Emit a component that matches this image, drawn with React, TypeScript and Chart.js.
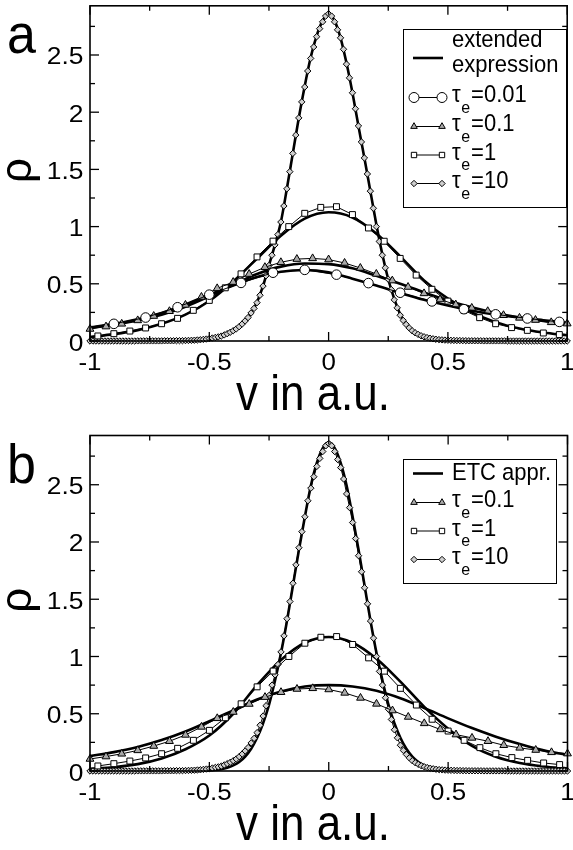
import React, { useEffect, useRef } from "react";
import { Chart, registerables } from "chart.js";

Chart.register(...registerables);

// ---------------- axes ----------------
const X_MIN = -1;
const X_MAX = 1;
const Y_MIN = 0;
const Y_MAX = 2.93;
const X_TICKS = [-1, -0.5, 0, 0.5, 1];
const X_TICK_LABELS = ["-1", "-0.5", "0", "0.5", "1"];
const X_MINOR = [-0.75, -0.25, 0.25, 0.75];
const Y_TICKS = [0, 0.5, 1, 1.5, 2, 2.5];
const Y_TICK_LABELS = ["0", "0.5", "1", "1.5", "2", "2.5"];
const Y_MINOR = [0.25, 0.75, 1.25, 1.75, 2.25, 2.75];
const X_TITLE = "v in a.u.";
const Y_TITLE = "ρ";

// ---------------- simulation data (markers) ----------------
const CIRCLE_V = [-0.9, -0.767, -0.633, -0.5, -0.367, -0.233, -0.1, 0.033, 0.167, 0.3, 0.433, 0.567, 0.7, 0.833, 0.967];
const RHO_TAU001 = [0.15, 0.205, 0.295, 0.405, 0.508, 0.597, 0.622, 0.58, 0.506, 0.422, 0.346, 0.278, 0.233, 0.197, 0.167];

const TRI_V = [-1, -0.933, -0.867, -0.8, -0.733, -0.667, -0.6, -0.533, -0.467, -0.4, -0.333, -0.267, -0.2, -0.133, -0.067, 0,
  0.067, 0.133, 0.2, 0.267, 0.333, 0.4, 0.467, 0.533, 0.6, 0.667, 0.733, 0.8, 0.867, 0.933, 1];
const RHO_TAU01 = [0.105, 0.126, 0.15, 0.18, 0.218, 0.26, 0.315, 0.385, 0.46, 0.515, 0.585, 0.645, 0.688, 0.716, 0.722, 0.712,
  0.682, 0.638, 0.586, 0.528, 0.472, 0.416, 0.363, 0.318, 0.289, 0.26, 0.225, 0.202, 0.183, 0.163, 0.152];

const SQ_V = [-0.967, -0.9, -0.833, -0.767, -0.7, -0.633, -0.567, -0.5, -0.433, -0.367, -0.3, -0.233, -0.167, -0.1, -0.033,
  0.033, 0.1, 0.167, 0.233, 0.3, 0.367, 0.433, 0.5, 0.567, 0.633, 0.7, 0.767, 0.833, 0.9, 0.967];
const RHO_TAU1 = [0.044, 0.064, 0.087, 0.114, 0.151, 0.198, 0.268, 0.355, 0.465, 0.587, 0.735, 0.873, 1.0, 1.116, 1.168,
  1.174, 1.105, 0.988, 0.872, 0.722, 0.576, 0.452, 0.349, 0.268, 0.204, 0.151, 0.117, 0.093, 0.07, 0.056];

// tau_e = 10: 161 bins of width 0.0125 from -1 to 1
const DIA_V = Array.from({ length: 161 }, (_, i) => -1 + i / 80);
const RHO_TAU10 = [
  0, 0, 0, 0, 0, 0, 0, 0,
  0, 0, 0, 0, 0, 0, 0, 0,
  0.001, 0.001, 0.001, 0.001, 0.001, 0.001, 0.001, 0.001,
  0.001, 0.002, 0.002, 0.002, 0.002, 0.003, 0.003, 0.003,
  0.004, 0.005, 0.006, 0.007, 0.009, 0.011, 0.014, 0.017,
  0.021, 0.026, 0.031, 0.036, 0.043, 0.053, 0.064, 0.076,
  0.09, 0.105, 0.125, 0.148, 0.175, 0.205, 0.245, 0.285,
  0.335, 0.4, 0.48, 0.57, 0.66, 0.75, 0.84, 0.93,
  1.04, 1.18, 1.33, 1.48, 1.64, 1.8, 1.95, 2.09,
  2.22, 2.36, 2.47, 2.57, 2.66, 2.73, 2.79, 2.84,
  2.86, 2.84, 2.79, 2.72, 2.65, 2.55, 2.42, 2.3,
  2.17, 2.03, 1.88, 1.74, 1.6, 1.46, 1.31, 1.16,
  1.0, 0.87, 0.75, 0.64, 0.54, 0.45, 0.36, 0.29,
  0.225, 0.18, 0.145, 0.115, 0.09, 0.072, 0.058, 0.046,
  0.037, 0.03, 0.024, 0.019, 0.015, 0.012, 0.01, 0.008,
  0.007, 0.006, 0.005, 0.004, 0.004, 0.003, 0.003, 0.002,
  0.002, 0.002, 0.002, 0.002, 0.001, 0.001, 0.001, 0.001,
  0.001, 0.001, 0.001, 0.001, 0, 0, 0, 0,
  0, 0, 0, 0, 0, 0, 0, 0,
  0, 0, 0, 0, 0, 0, 0, 0,
  0,
];

// ---------------- analytic curves ----------------
const CURVE_V = [-1, -0.9, -0.8, -0.7, -0.6, -0.5, -0.4, -0.3, -0.2, -0.1, 0, 0.1, 0.2, 0.3, 0.4, 0.5, 0.6, 0.7, 0.8, 0.9, 1];
// panel a: extended expression
const EXT_TAU001 = [0.12, 0.15, 0.19, 0.245, 0.32, 0.405, 0.485, 0.56, 0.605, 0.62, 0.6, 0.545, 0.485, 0.42, 0.36, 0.31, 0.265, 0.232, 0.205, 0.182, 0.16];
const EXT_TAU01 = [0.115, 0.145, 0.18, 0.23, 0.3, 0.39, 0.49, 0.585, 0.65, 0.678, 0.672, 0.635, 0.57, 0.5, 0.425, 0.355, 0.295, 0.245, 0.205, 0.175, 0.15];
const EXT_TAU1 = [0.035, 0.06, 0.095, 0.15, 0.23, 0.35, 0.52, 0.72, 0.92, 1.07, 1.125, 1.08, 0.94, 0.74, 0.53, 0.37, 0.25, 0.165, 0.11, 0.075, 0.05];
const EXT10_V = [-1, -0.8, -0.7, -0.6, -0.575, -0.55, -0.525, -0.5, -0.475, -0.45, -0.425, -0.4, -0.375, -0.35, -0.325, -0.3,
  -0.275, -0.25, -0.225, -0.2, -0.175, -0.15, -0.125, -0.1, -0.075, -0.05, -0.025, 0, 0.025, 0.05, 0.075, 0.1, 0.125, 0.15,
  0.175, 0.2, 0.225, 0.25, 0.275, 0.3, 0.325, 0.35, 0.375, 0.4, 0.425, 0.45, 0.475, 0.5, 0.55, 0.6, 0.7, 0.8, 1];
const EXT_TAU10 = [0, 0.001, 0.002, 0.005, 0.007, 0.01, 0.015, 0.022, 0.032, 0.045, 0.064, 0.09, 0.127, 0.177, 0.245, 0.34,
  0.48, 0.66, 0.84, 1.04, 1.33, 1.64, 1.95, 2.23, 2.48, 2.67, 2.8, 2.86, 2.8, 2.65, 2.43, 2.17, 1.88, 1.6,
  1.31, 1.02, 0.76, 0.54, 0.37, 0.235, 0.148, 0.092, 0.06, 0.038, 0.025, 0.016, 0.011, 0.008, 0.005, 0.003, 0.001, 0, 0];
// panel b: ETC approximation
const ETC_TAU01 = [0.13, 0.165, 0.21, 0.27, 0.345, 0.435, 0.53, 0.625, 0.695, 0.738, 0.75, 0.738, 0.7, 0.635, 0.55, 0.46, 0.375, 0.3, 0.235, 0.18, 0.14];
const ETC_TAU1 = [0.02, 0.033, 0.06, 0.11, 0.19, 0.31, 0.5, 0.75, 0.97, 1.12, 1.17, 1.12, 0.98, 0.78, 0.56, 0.37, 0.22, 0.125, 0.07, 0.04, 0.022];
const ETC10_V = [-1, -0.6, -0.55, -0.5, -0.475, -0.45, -0.425, -0.4, -0.375, -0.35, -0.325, -0.3, -0.275, -0.25, -0.225, -0.2,
  -0.175, -0.15, -0.125, -0.1, -0.075, -0.05, -0.025, 0, 0.025, 0.05, 0.075, 0.1, 0.125, 0.15, 0.175, 0.2, 0.225, 0.25, 0.275,
  0.3, 0.325, 0.35, 0.375, 0.4, 0.425, 0.45, 0.475, 0.5, 0.55, 0.6, 1];
const ETC_TAU10 = [0, 0, 0.001, 0.005, 0.009, 0.016, 0.029, 0.049, 0.079, 0.126, 0.194, 0.29, 0.417, 0.58, 0.79, 1.03, 1.31,
  1.62, 1.93, 2.22, 2.49, 2.69, 2.82, 2.87, 2.82, 2.69, 2.49, 2.22, 1.93, 1.62, 1.31, 1.03, 0.79, 0.58, 0.417, 0.29, 0.194,
  0.126, 0.079, 0.049, 0.029, 0.016, 0.009, 0.005, 0.001, 0, 0];

const TAU_LABELS_A = ["0.01", "0.1", "1", "10"];
const TAU_LABELS_B = ["0.1", "1", "10"];

// ---------------- styling ----------------
const FONT = "'Liberation Sans', Arial, Helvetica, sans-serif";
const TRI_FILL = "#a9a9a9";
const DIA_FILL = "#cfcfcf";
const MARKERS: Record<string, { style: string; r: number; fill: string; lr: number }> = {
  circle: { style: "circle", r: 4.8, fill: "#ffffff", lr: 5 },
  triangle: { style: "triangle", r: 4.5, fill: TRI_FILL, lr: 3.8 },
  rect: { style: "rect", r: 4.2, fill: "#ffffff", lr: 3.8 },
  rectRot: { style: "rectRot", r: 3.2, fill: DIA_FILL, lr: 3.2 },
};

function pts(v: number[], rho: number[]) {
  return v.map((x, i) => ({ x, y: rho[i] }));
}

function markerSet(v: number[], rho: number[], key: string) {
  const m = MARKERS[key];
  return {
    data: pts(v, rho),
    borderColor: "#000",
    borderWidth: 1,
    pointStyle: m.style,
    pointRadius: m.r,
    pointBackgroundColor: m.fill,
    pointBorderColor: "#000",
    pointBorderWidth: 1,
    fill: false,
    tension: 0,
    clip: false as any,
  };
}

function curveSet(v: number[], rho: number[]) {
  return {
    data: pts(v, rho),
    borderColor: "#000",
    borderWidth: 2.6,
    pointRadius: 0,
    fill: false,
    cubicInterpolationMode: "monotone" as const,
    clip: false as any,
  };
}

function txt(ctx: CanvasRenderingContext2D, s: string, x: number, y: number, size: number,
  align: CanvasTextAlign = "left", sx = 1, sy = 1) {
  ctx.save();
  ctx.translate(x, y);
  ctx.scale(sx, sy);
  ctx.font = `${size}px ${FONT}`;
  ctx.textAlign = align;
  ctx.textBaseline = "alphabetic";
  ctx.fillStyle = "#000";
  ctx.fillText(s, 0, 0);
  ctx.restore();
}

function drawMarker(ctx: CanvasRenderingContext2D, style: string, x: number, y: number, r: number, fill: string) {
  ctx.beginPath();
  if (style === "circle") ctx.arc(x, y, r, 0, Math.PI * 2);
  else if (style === "triangle") {
    ctx.moveTo(x, y - r);
    ctx.lineTo(x + r * 0.866, y + r * 0.5);
    ctx.lineTo(x - r * 0.866, y + r * 0.5);
    ctx.closePath();
  } else if (style === "rect") {
    const s = r * Math.SQRT1_2;
    ctx.rect(x - s, y - s, 2 * s, 2 * s);
  } else {
    ctx.moveTo(x, y - r);
    ctx.lineTo(x + r, y);
    ctx.lineTo(x, y + r);
    ctx.lineTo(x - r, y);
    ctx.closePath();
  }
  ctx.fillStyle = fill;
  ctx.fill();
  ctx.lineWidth = 1;
  ctx.strokeStyle = "#000";
  ctx.stroke();
}

type LegendCfg = {
  box: [number, number, number, number];
  headY: number;
  headText: string[];
  headBase: number[];
  rows: { key: string; label: string; y: number }[];
};

function decorPlugin(letter: string, legend: LegendCfg) {
  return {
    id: "decor" + letter,
    afterDraw(chart: any) {
      const ctx: CanvasRenderingContext2D = chart.ctx;
      const { left, right, top, bottom } = chart.chartArea;
      const xs = chart.scales.x;
      const ys = chart.scales.y;
      ctx.save();
      // frame
      ctx.strokeStyle = "#000";
      ctx.lineWidth = 1.6;
      ctx.strokeRect(left, top, right - left, bottom - top);
      ctx.lineWidth = 1.3;
      const seg = (x0: number, y0: number, x1: number, y1: number) => {
        ctx.beginPath();
        ctx.moveTo(x0, y0);
        ctx.lineTo(x1, y1);
        ctx.stroke();
      };
      X_TICKS.forEach((t) => {
        const p = xs.getPixelForValue(t);
        seg(p, bottom, p, bottom - 9);
        seg(p, top, p, top + 9);
      });
      X_MINOR.forEach((t) => {
        const p = xs.getPixelForValue(t);
        seg(p, bottom, p, bottom - 5);
        seg(p, top, p, top + 5);
      });
      Y_TICKS.forEach((t) => {
        const p = ys.getPixelForValue(t);
        seg(left, p, left + 9, p);
        seg(right, p, right - 9, p);
      });
      Y_MINOR.forEach((t) => {
        const p = ys.getPixelForValue(t);
        seg(left, p, left + 5, p);
        seg(right, p, right - 5, p);
      });
      // tick labels
      X_TICKS.forEach((t, i) => {
        txt(ctx, X_TICK_LABELS[i], xs.getPixelForValue(t), bottom + 29, 24, "center", 1.08, 1);
      });
      Y_TICKS.forEach((t, i) => {
        txt(ctx, Y_TICK_LABELS[i], left - 6.5, ys.getPixelForValue(t) + 9.5, 24, "right", 1.1, 1);
      });
      // axis titles
      txt(ctx, X_TITLE, 313, bottom + 69, 44, "center", 1, 1.15);
      ctx.save();
      ctx.translate(31, (top + bottom) / 2 - 3);
      ctx.rotate(-Math.PI / 2);
      txt(ctx, Y_TITLE, 0, 0, 44, "center", 1, 1);
      ctx.restore();
      // panel letter
      txt(ctx, letter, 7, 53, 52, "left", 1, 1.05);

      // legend
      const [bx0, by0, bx1, by1] = legend.box;
      ctx.fillStyle = "#fff";
      ctx.fillRect(bx0, by0, bx1 - bx0, by1 - by0);
      ctx.lineWidth = 1;
      ctx.strokeStyle = "#000";
      ctx.strokeRect(bx0 + 0.5, by0 + 0.5, bx1 - bx0, by1 - by0);
      const sx0 = 414;
      const sx1 = 442;
      const tx = 452;
      ctx.lineWidth = 2.6;
      seg(sx0 - 1, legend.headY, sx1 + 1, legend.headY);
      legend.headText.forEach((s, i) => txt(ctx, s, tx, legend.headBase[i], 22, "left", 1, 1.08));
      legend.rows.forEach((r) => {
        const m = MARKERS[r.key];
        ctx.lineWidth = 1;
        seg(sx0, r.y, sx1, r.y);
        drawMarker(ctx, m.style, sx0, r.y, m.lr, m.fill);
        drawMarker(ctx, m.style, sx1, r.y, m.lr, m.fill);
        ctx.font = `22px ${FONT}`;
        const wTau = ctx.measureText("τ").width;
        txt(ctx, "τ", tx, r.y + 4.5, 22, "left", 1, 1.08);
        ctx.font = `16px ${FONT}`;
        const wE = ctx.measureText("e").width;
        txt(ctx, "e", tx + wTau + 0.5, r.y + 15, 16, "left", 1, 1.08);
        txt(ctx, "=" + r.label, tx + wTau + wE + 1.5, r.y + 4.5, 22, "left", 1, 1.08);
      });
      ctx.restore();
    },
  };
}

function makeChart(canvas: HTMLCanvasElement, datasets: any[], bottomPad: number, letter: string, legend: LegendCfg) {
  return new Chart(canvas, {
    type: "line",
    data: { datasets },
    options: {
      animation: false,
      responsive: false,
      devicePixelRatio: 1,
      events: [],
      layout: { padding: { left: 90, right: 3, top: 5, bottom: bottomPad } },
      plugins: { legend: { display: false }, tooltip: { enabled: false } },
      scales: {
        x: { type: "linear", min: X_MIN, max: X_MAX, display: false },
        y: { type: "linear", min: Y_MIN, max: Y_MAX, display: false },
      },
    },
    plugins: [decorPlugin(letter, legend)],
  } as any);
}

export default function App() {
  const refA = useRef<HTMLCanvasElement>(null);
  const refB = useRef<HTMLCanvasElement>(null);

  useEffect(() => {
    const dsA = [
      markerSet(CIRCLE_V, RHO_TAU001, "circle"),
      markerSet(TRI_V, RHO_TAU01, "triangle"),
      markerSet(SQ_V, RHO_TAU1, "rect"),
      markerSet(DIA_V, RHO_TAU10, "rectRot"),
      curveSet(CURVE_V, EXT_TAU001),
      curveSet(CURVE_V, EXT_TAU01),
      curveSet(CURVE_V, EXT_TAU1),
      curveSet(EXT10_V, EXT_TAU10),
    ];
    const dsB = [
      markerSet(TRI_V, RHO_TAU01, "triangle"),
      markerSet(SQ_V, RHO_TAU1, "rect"),
      markerSet(DIA_V, RHO_TAU10, "rectRot"),
      curveSet(CURVE_V, ETC_TAU01),
      curveSet(CURVE_V, ETC_TAU1),
      curveSet(ETC10_V, ETC_TAU10),
    ];
    const legA: LegendCfg = {
      box: [403, 29, 566, 207],
      headY: 58,
      headText: ["extended", "expression"],
      headBase: [47, 72],
      rows: [
        { key: "circle", label: TAU_LABELS_A[0], y: 97.5 },
        { key: "triangle", label: TAU_LABELS_A[1], y: 126.5 },
        { key: "rect", label: TAU_LABELS_A[2], y: 155 },
        { key: "rectRot", label: TAU_LABELS_A[3], y: 183.5 },
      ],
    };
    const legB: LegendCfg = {
      box: [403, 29, 556, 153],
      headY: 43.5,
      headText: ["ETC appr."],
      headBase: [49.5],
      rows: [
        { key: "triangle", label: TAU_LABELS_B[0], y: 72.5 },
        { key: "rect", label: TAU_LABELS_B[1], y: 101 },
        { key: "rectRot", label: TAU_LABELS_B[2], y: 129.5 },
      ],
    };
    const a = makeChart(refA.current!, dsA, 89, "a", legA);
    const b = makeChart(refB.current!, dsB, 79, "b", legB);
    return () => {
      a.destroy();
      b.destroy();
    };
  }, []);

  return (
    <div style={{ position: "absolute", left: 0, top: 0, width: 573, height: 850, background: "#fff" }}>
      <canvas ref={refA} width={573} height={430} style={{ display: "block", width: 573, height: 430 }} />
      <canvas ref={refB} width={573} height={420} style={{ display: "block", width: 573, height: 420 }} />
    </div>
  );
}
